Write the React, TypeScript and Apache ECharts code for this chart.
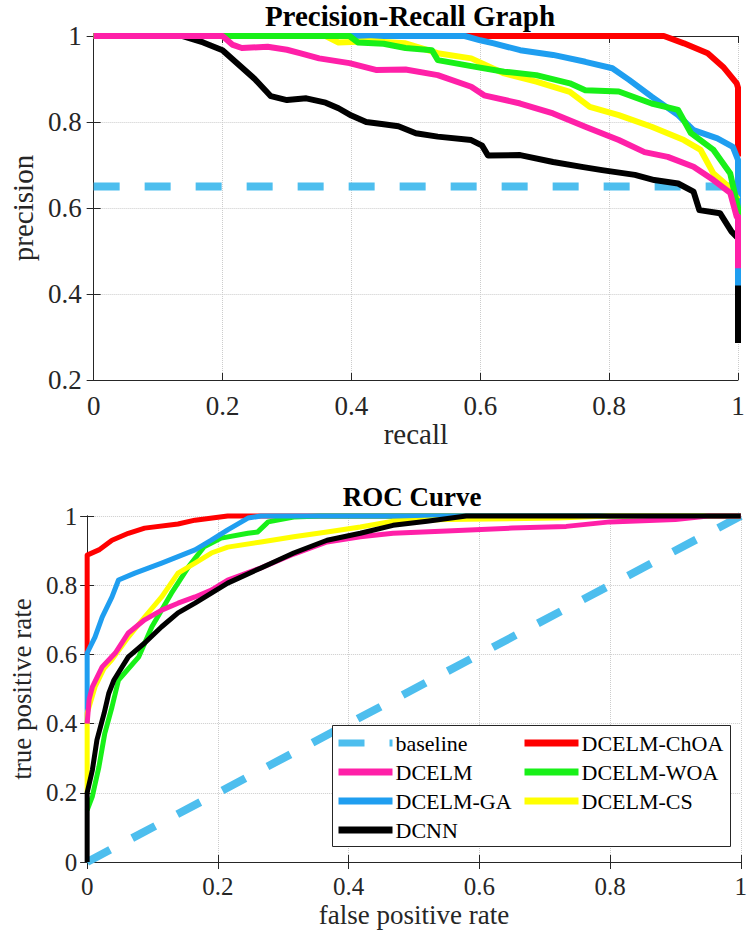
import React, { useEffect, useRef } from "react";
import * as echarts from "echarts";

const FONT = '"Liberation Serif", "Times New Roman", serif';
const AXIS_COLOR = "#262626";

const COLORS: Record<string, string> = {
  baseline: "#4DBEEE",
  "DCELM-ChOA": "#FF0000",
  DCELM: "#FF20A8",
  "DCELM-WOA": "#18F018",
  "DCELM-GA": "#1F9EF0",
  "DCELM-CS": "#FFFF00",
  DCNN: "#000000",
};
const LEGEND_COL1 = ["baseline", "DCELM", "DCELM-GA", "DCNN"];
const LEGEND_COL2 = ["DCELM-ChOA", "DCELM-WOA", "DCELM-CS"];

// Precision-Recall curves: [recall, precision]
const prBaseline = [[0, 0.65], [1, 0.65]];
const prDCNN = [[0, 1], [0.137, 1], [0.17, 0.985], [0.2, 0.967], [0.22, 0.94], [0.25, 0.9], [0.275, 0.86], [0.3, 0.851], [0.33, 0.855], [0.36, 0.845], [0.38, 0.832], [0.4, 0.815], [0.423, 0.8], [0.45, 0.795], [0.473, 0.79], [0.5, 0.774], [0.534, 0.766], [0.586, 0.758], [0.603, 0.745], [0.612, 0.722], [0.662, 0.723], [0.713, 0.707], [0.76, 0.695], [0.789, 0.688], [0.84, 0.677], [0.87, 0.665], [0.907, 0.657], [0.931, 0.638], [0.94, 0.595], [0.972, 0.588], [0.99, 0.545], [0.998, 0.533], [1, 0.533], [1, 0.286]];
const prDCELM = [[0, 1], [0.2, 1], [0.215, 0.98], [0.23, 0.972], [0.27, 0.975], [0.3, 0.968], [0.32, 0.96], [0.35, 0.948], [0.397, 0.937], [0.438, 0.921], [0.484, 0.922], [0.534, 0.909], [0.586, 0.882], [0.606, 0.862], [0.662, 0.843], [0.713, 0.82], [0.763, 0.789], [0.815, 0.758], [0.855, 0.73], [0.891, 0.719], [0.931, 0.696], [0.962, 0.665], [0.988, 0.635], [0.998, 0.58], [1, 0.58], [1, 0.46]];
const prCS = [[0, 1], [0.36, 1], [0.38, 0.985], [0.43, 0.988], [0.484, 0.983], [0.534, 0.96], [0.586, 0.948], [0.637, 0.913], [0.687, 0.894], [0.739, 0.87], [0.77, 0.835], [0.815, 0.816], [0.866, 0.789], [0.916, 0.758], [0.942, 0.735], [0.962, 0.68], [0.983, 0.653], [1, 0.62]];
const prWOA = [[0, 1], [0.397, 1], [0.41, 0.985], [0.45, 0.982], [0.484, 0.972], [0.525, 0.967], [0.534, 0.944], [0.586, 0.93], [0.637, 0.917], [0.687, 0.909], [0.739, 0.89], [0.763, 0.874], [0.815, 0.871], [0.866, 0.843], [0.907, 0.828], [0.927, 0.774], [0.962, 0.735], [0.988, 0.68], [1, 0.6], [1, 0.58]];
const prGA = [[0, 1], [0.576, 1], [0.6, 0.99], [0.621, 0.983], [0.662, 0.967], [0.713, 0.956], [0.763, 0.94], [0.805, 0.925], [0.831, 0.898], [0.866, 0.859], [0.907, 0.816], [0.931, 0.781], [0.968, 0.762], [0.992, 0.742], [1, 0.712], [1, 0.42]];
const prChOA = [[0, 1], [0.885, 1], [0.916, 0.983], [0.953, 0.96], [0.977, 0.928], [0.998, 0.89], [1, 0.88], [1, 0.72]];

// ROC curves: [false positive rate, true positive rate]
const rocBaseline = [[0, 0], [1, 1]];
const rocDCNN = [[0, 0], [0, 0.2], [0.008, 0.266], [0.015, 0.353], [0.026, 0.43], [0.033, 0.487], [0.041, 0.526], [0.063, 0.593], [0.088, 0.633], [0.114, 0.68], [0.139, 0.72], [0.165, 0.748], [0.19, 0.777], [0.215, 0.806], [0.266, 0.85], [0.316, 0.893], [0.367, 0.93], [0.418, 0.95], [0.468, 0.973], [0.52, 0.985], [0.58, 1], [1, 1]];
const rocDCELM = [[0, 0.4], [0.003, 0.47], [0.008, 0.506], [0.023, 0.564], [0.043, 0.604], [0.063, 0.662], [0.088, 0.7], [0.114, 0.728], [0.139, 0.748], [0.165, 0.766], [0.19, 0.786], [0.215, 0.815], [0.266, 0.85], [0.316, 0.89], [0.367, 0.925], [0.418, 0.94], [0.468, 0.95], [0.55, 0.957], [0.65, 0.965], [0.733, 0.97], [0.8, 0.983], [0.9, 0.99], [0.95, 1], [1, 1]];
const rocCS = [[0, 0.2], [0, 0.43], [0.003, 0.448], [0.012, 0.506], [0.026, 0.56], [0.038, 0.585], [0.063, 0.65], [0.088, 0.708], [0.114, 0.766], [0.139, 0.835], [0.165, 0.864], [0.19, 0.893], [0.215, 0.91], [0.266, 0.925], [0.316, 0.94], [0.367, 0.954], [0.418, 0.968], [0.468, 0.985], [0.55, 0.99], [0.72, 0.994], [0.8, 1], [1, 1]];
const rocWOA = [[0, 0.15], [0.008, 0.19], [0.018, 0.275], [0.027, 0.372], [0.038, 0.448], [0.048, 0.526], [0.079, 0.593], [0.099, 0.68], [0.129, 0.777], [0.155, 0.853], [0.179, 0.911], [0.205, 0.936], [0.246, 0.95], [0.261, 0.954], [0.277, 0.983], [0.316, 0.997], [0.357, 1], [1, 1]];
const rocGA = [[0, 0.4], [0, 0.604], [0.012, 0.65], [0.023, 0.708], [0.038, 0.766], [0.048, 0.815], [0.073, 0.835], [0.114, 0.864], [0.165, 0.902], [0.19, 0.93], [0.215, 0.96], [0.246, 0.994], [0.266, 1], [1, 1]];
const rocChOA = [[0, 0.6], [0, 0.887], [0.018, 0.902], [0.038, 0.93], [0.063, 0.95], [0.088, 0.965], [0.139, 0.977], [0.165, 0.988], [0.215, 1], [1, 1]];

function mkSeries(name: string, data: number[][], axis: number, width: number) {
  const dashed = name === "baseline";
  return {
    type: "line",
    name,
    data,
    xAxisIndex: axis,
    yAxisIndex: axis,
    symbol: "none",
    showSymbol: false,
    clip: false,
    silent: true,
    emphasis: { disabled: true },
    itemStyle: { color: COLORS[name] },
    lineStyle: {
      color: COLORS[name],
      width: dashed ? 8 : width,
      type: dashed ? [26, 25] : "solid",
      cap: "butt",
      join: "round",
    },
  };
}

function mkX(grid: number, name: string, nameGap: number, labelSize: number, nameSize: number) {
  return [
    {
      gridIndex: grid,
      type: "value",
      min: 0,
      max: 1,
      interval: 0.2,
      position: "bottom",
      name,
      nameLocation: "middle",
      nameGap,
      nameTextStyle: { fontFamily: FONT, fontSize: nameSize, color: AXIS_COLOR },
      axisLine: { show: true, lineStyle: { color: AXIS_COLOR, width: 1 } },
      axisTick: { show: true, inside: true, length: 7, lineStyle: { color: AXIS_COLOR } },
      axisLabel: { fontFamily: FONT, fontSize: labelSize, color: AXIS_COLOR, margin: 12 },
      splitLine: { show: true, lineStyle: { type: "dotted", color: "#cccccc", width: 1 } },
    },
    {
      gridIndex: grid,
      type: "value",
      min: 0,
      max: 1,
      interval: 0.2,
      position: "top",
      axisLine: { show: true, lineStyle: { color: AXIS_COLOR, width: 1 } },
      axisTick: { show: true, inside: true, length: 7, lineStyle: { color: AXIS_COLOR } },
      axisLabel: { show: false },
      splitLine: { show: false },
    },
  ];
}

function mkY(grid: number, min: number, name: string, nameGap: number, labelSize: number, nameSize: number, margin: number) {
  return [
    {
      gridIndex: grid,
      type: "value",
      min,
      max: 1,
      interval: 0.2,
      position: "left",
      name,
      nameLocation: "middle",
      nameGap,
      nameTextStyle: { fontFamily: FONT, fontSize: nameSize, color: AXIS_COLOR },
      axisLine: { show: true, lineStyle: { color: AXIS_COLOR, width: 1 } },
      axisTick: { show: true, inside: true, length: 7, lineStyle: { color: AXIS_COLOR } },
      axisLabel: { fontFamily: FONT, fontSize: labelSize, color: AXIS_COLOR, margin },
      splitLine: { show: true, lineStyle: { type: "dotted", color: "#cccccc", width: 1 } },
    },
    {
      gridIndex: grid,
      type: "value",
      min,
      max: 1,
      interval: 0.2,
      position: "right",
      axisLine: { show: true, lineStyle: { color: AXIS_COLOR, width: 1 } },
      axisTick: { show: true, inside: true, length: 7, lineStyle: { color: AXIS_COLOR } },
      axisLabel: { show: false },
      splitLine: { show: false },
    },
  ];
}

function mkLegend(data: string[], left: number) {
  return {
    data,
    orient: "vertical",
    left,
    top: 732,
    padding: 0,
    itemWidth: 54,
    itemHeight: 8,
    itemGap: 7,
    selectedMode: false,
    z: 10,
    itemStyle: { opacity: 0 },
    lineStyle: { width: 7 },
    textStyle: { fontFamily: FONT, fontSize: 22, color: "#000", padding: [0, 0, 0, -2] },
  };
}

export default function App() {
  const ref = useRef<HTMLDivElement>(null);
  useEffect(() => {
    if (!ref.current) return;
    const chart = echarts.init(ref.current, undefined, { renderer: "svg" });
    const option = {
      animation: false,
      backgroundColor: "#ffffff",
      grid: [
        { left: 83, top: 36, width: 655, height: 344 },
        { left: 85, top: 516, width: 658, height: 346 },
      ],
      xAxis: [
        ...mkX(0, "recall", 38, 27, 29),
        ...mkX(1, "false positive rate", 39, 25, 27),
      ],
      yAxis: [
        ...mkY(0, 0.2, "precision", 44, 27, 29, 12),
        ...mkY(1, 0, "true positive rate", 36, 25, 27, 10),
      ],
      legend: [mkLegend(LEGEND_COL1, 335), mkLegend(LEGEND_COL2, 521)],
      graphic: {
        elements: [
          {
            type: "text",
            x: 410,
            y: 16,
            style: { text: "Precision-Recall Graph", font: `bold 29px ${FONT}`, fill: "#000", align: "center", verticalAlign: "middle" },
          },
          {
            type: "text",
            x: 412,
            y: 497,
            style: { text: "ROC Curve", font: `bold 27px ${FONT}`, fill: "#000", align: "center", verticalAlign: "middle" },
          },
          {
            type: "rect",
            z: 5,
            shape: { x: 332.5, y: 725.5, width: 398, height: 121 },
            style: { fill: "#ffffff", stroke: AXIS_COLOR, lineWidth: 1 },
          },
        ],
      },
      series: [
        mkSeries("baseline", prBaseline, 0, 6),
        mkSeries("DCNN", prDCNN, 0, 6),
        mkSeries("DCELM-ChOA", prChOA, 0, 6),
        mkSeries("DCELM-GA", prGA, 0, 6),
        mkSeries("DCELM-CS", prCS, 0, 6),
        mkSeries("DCELM-WOA", prWOA, 0, 6),
        mkSeries("DCELM", prDCELM, 0, 6),
        mkSeries("baseline", rocBaseline, 2, 5),
        mkSeries("DCELM-ChOA", rocChOA, 2, 5),
        mkSeries("DCELM-WOA", rocWOA, 2, 5),
        mkSeries("DCELM-GA", rocGA, 2, 5),
        mkSeries("DCELM-CS", rocCS, 2, 5),
        mkSeries("DCELM", rocDCELM, 2, 5),
        mkSeries("DCNN", rocDCNN, 2, 5),
      ],
    };
    chart.setOption(option as any);
    return () => chart.dispose();
  }, []);
  return <div ref={ref} style={{ position: "absolute", left: 0, top: 0, width: 750, height: 941 }} />;
}
